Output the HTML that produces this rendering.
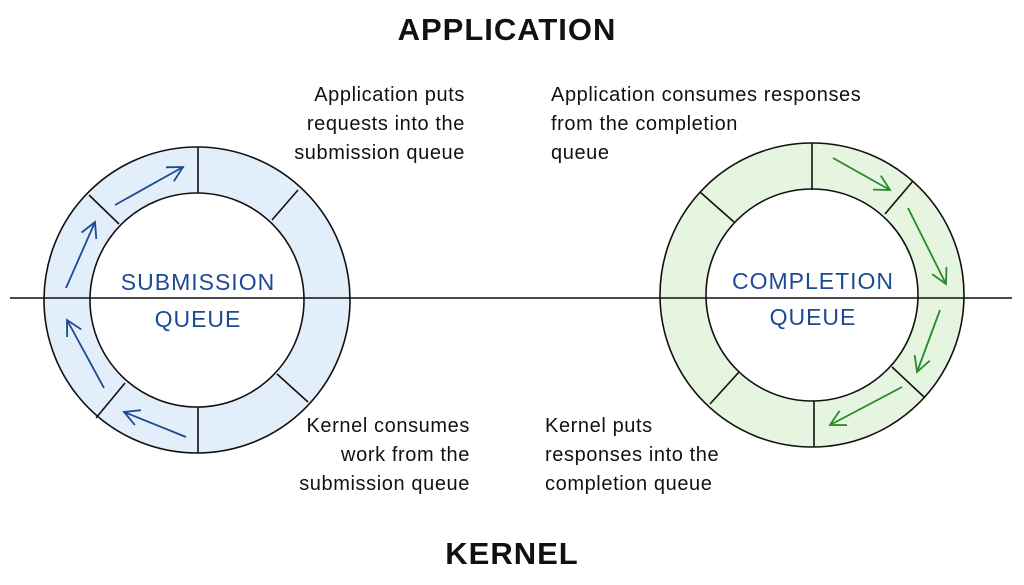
<!DOCTYPE html>
<html><head><meta charset="utf-8"><style>
html,body{margin:0;padding:0;background:#fff;}
svg{display:block;}
.t{font-family:"Liberation Sans",sans-serif;font-size:20px;fill:#111;letter-spacing:0.6px;}
.h{font-family:"Liberation Sans",sans-serif;font-size:31px;font-weight:bold;fill:#111;letter-spacing:1px;}
.q{font-family:"Liberation Sans",sans-serif;font-size:23px;fill:#1d4a94;letter-spacing:1px;}
</style></head><body>
<svg width="1024" height="585" viewBox="0 0 1024 585" xmlns="http://www.w3.org/2000/svg">
<defs>
<marker id="ab" markerWidth="20" markerHeight="20" refX="17" refY="10" orient="auto" markerUnits="userSpaceOnUse"><path d="M2,2 L17,10 L2,18" fill="none" stroke="#1d4a94" stroke-width="1.8"/></marker>
<marker id="ag" markerWidth="20" markerHeight="20" refX="17" refY="10" orient="auto" markerUnits="userSpaceOnUse"><path d="M2,2 L17,10 L2,18" fill="none" stroke="#2a8a2a" stroke-width="1.8"/></marker>
</defs>
<text class="h" x="507" y="40" text-anchor="middle">APPLICATION</text>
<text class="h" x="512" y="564" text-anchor="middle">KERNEL</text>

<!-- left ring -->
<circle cx="197" cy="300" r="130" fill="none" stroke="#e3eefb" stroke-width="46"/>
<circle cx="197" cy="300" r="153" fill="none" stroke="#111" stroke-width="1.6"/>
<circle cx="197" cy="300" r="107" fill="#fff" stroke="#111" stroke-width="1.6"/>
<g stroke="#111" stroke-width="1.6">
<line x1="198" y1="147" x2="198" y2="193"/>
<line x1="298" y1="190" x2="272" y2="220"/>
<line x1="308" y1="402" x2="277" y2="374"/>
<line x1="198" y1="407" x2="198" y2="453"/>
<line x1="96" y1="418" x2="125" y2="383"/>
<line x1="89" y1="195" x2="119" y2="224"/>
</g>
<g stroke="#1d4a94" stroke-width="1.8" fill="none">
<line x1="115" y1="205" x2="183" y2="167" marker-end="url(#ab)"/>
<line x1="66" y1="288" x2="95" y2="222" marker-end="url(#ab)"/>
<line x1="104" y1="388" x2="67" y2="320" marker-end="url(#ab)"/>
<line x1="186" y1="437" x2="124" y2="412" marker-end="url(#ab)"/>
</g>

<!-- right ring -->
<circle cx="812" cy="295" r="129" fill="none" stroke="#e6f5df" stroke-width="46"/>
<circle cx="812" cy="295" r="152" fill="none" stroke="#111" stroke-width="1.6"/>
<circle cx="812" cy="295" r="106" fill="#fff" stroke="#111" stroke-width="1.6"/>
<g stroke="#111" stroke-width="1.6">
<line x1="812" y1="143" x2="812" y2="190"/>
<line x1="913" y1="181" x2="885" y2="214"/>
<line x1="924" y1="397" x2="892" y2="367"/>
<line x1="814" y1="401" x2="814" y2="447"/>
<line x1="739" y1="372" x2="710" y2="404"/>
<line x1="700" y1="192" x2="734" y2="222"/>
</g>
<g stroke="#2a8a2a" stroke-width="1.8" fill="none">
<line x1="833" y1="158" x2="890" y2="190" marker-end="url(#ag)"/>
<line x1="908" y1="208" x2="946" y2="284" marker-end="url(#ag)"/>
<line x1="940" y1="310" x2="917" y2="372" marker-end="url(#ag)"/>
<line x1="902" y1="387" x2="830" y2="425" marker-end="url(#ag)"/>
</g>

<line x1="10" y1="298" x2="1012" y2="298" stroke="#111" stroke-width="1.6"/>

<text class="q" x="198" y="290" text-anchor="middle">SUBMISSION</text>
<text class="q" x="198" y="327" text-anchor="middle">QUEUE</text>
<text class="q" x="813" y="289" text-anchor="middle">COMPLETION</text>
<text class="q" x="813" y="325" text-anchor="middle">QUEUE</text>

<text class="t" x="465" y="101" text-anchor="end">Application puts</text>
<text class="t" x="465" y="130" text-anchor="end">requests into the</text>
<text class="t" x="465" y="159" text-anchor="end">submission queue</text>
<text class="t" x="551" y="101">Application consumes responses</text>
<text class="t" x="551" y="130">from the completion</text>
<text class="t" x="551" y="159">queue</text>
<text class="t" x="470" y="432" text-anchor="end">Kernel consumes</text>
<text class="t" x="470" y="461" text-anchor="end">work from the</text>
<text class="t" x="470" y="490" text-anchor="end">submission queue</text>
<text class="t" x="545" y="432">Kernel puts</text>
<text class="t" x="545" y="461">responses into the</text>
<text class="t" x="545" y="490">completion queue</text>
</svg>
</body></html>
